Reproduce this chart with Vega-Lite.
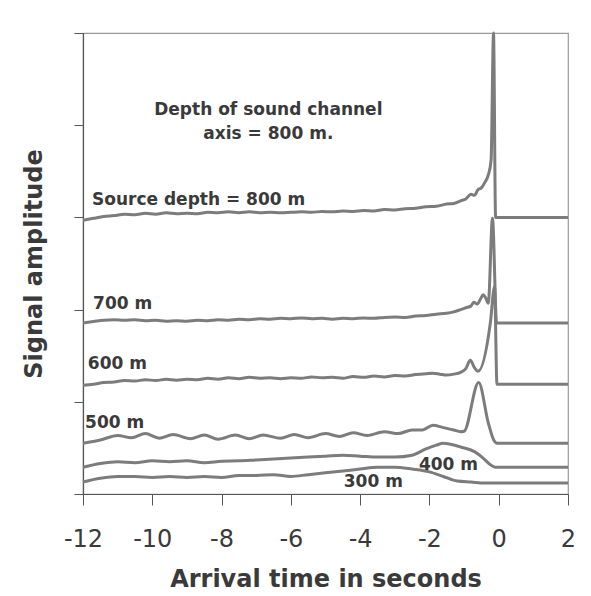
{
  "$schema": "https://vega.github.io/schema/vega-lite/v6.json",
  "autosize": {"type": "none"},
  "padding": {"left": 83, "top": 33, "right": 23, "bottom": 102},
  "width": 485,
  "height": 461,
  "background": "#ffffff",
  "config": {
    "view": {"stroke": "#9a9a9a", "strokeWidth": 1.2},
    "font": "DejaVu Sans"
  },
  "datasets": {
    "traces": [
      {"t": -12, "v": 2.97, "s": "800"}, {"t": -11.7, "v": 2.99, "s": "800"}, {"t": -11.4, "v": 3.01, "s": "800"}, {"t": -11.1, "v": 3.02, "s": "800"}, {"t": -10.8, "v": 3.035, "s": "800"}, {"t": -10.5, "v": 3.03, "s": "800"}, {"t": -10.2, "v": 3.045, "s": "800"}, {"t": -9.9, "v": 3.035, "s": "800"}, {"t": -9.6, "v": 3.05, "s": "800"}, {"t": -9.3, "v": 3.04, "s": "800"}, {"t": -9.0, "v": 3.045, "s": "800"}, {"t": -8.7, "v": 3.04, "s": "800"}, {"t": -8.4, "v": 3.055, "s": "800"}, {"t": -8.1, "v": 3.05, "s": "800"}, {"t": -7.8, "v": 3.06, "s": "800"}, {"t": -7.5, "v": 3.05, "s": "800"}, {"t": -7.2, "v": 3.06, "s": "800"}, {"t": -6.9, "v": 3.05, "s": "800"}, {"t": -6.6, "v": 3.055, "s": "800"}, {"t": -6.3, "v": 3.05, "s": "800"}, {"t": -6.0, "v": 3.055, "s": "800"}, {"t": -5.7, "v": 3.06, "s": "800"}, {"t": -5.4, "v": 3.055, "s": "800"}, {"t": -5.1, "v": 3.065, "s": "800"}, {"t": -4.8, "v": 3.06, "s": "800"}, {"t": -4.5, "v": 3.07, "s": "800"}, {"t": -4.2, "v": 3.065, "s": "800"}, {"t": -3.9, "v": 3.075, "s": "800"}, {"t": -3.6, "v": 3.07, "s": "800"}, {"t": -3.3, "v": 3.085, "s": "800"}, {"t": -3.0, "v": 3.08, "s": "800"}, {"t": -2.7, "v": 3.095, "s": "800"}, {"t": -2.4, "v": 3.1, "s": "800"}, {"t": -2.1, "v": 3.115, "s": "800"}, {"t": -1.8, "v": 3.12, "s": "800"}, {"t": -1.5, "v": 3.145, "s": "800"}, {"t": -1.3, "v": 3.15, "s": "800"}, {"t": -1.1, "v": 3.18, "s": "800"}, {"t": -0.95, "v": 3.2, "s": "800"}, {"t": -0.8, "v": 3.25, "s": "800"}, {"t": -0.7, "v": 3.24, "s": "800"}, {"t": -0.6, "v": 3.3, "s": "800"}, {"t": -0.5, "v": 3.32, "s": "800"}, {"t": -0.4, "v": 3.38, "s": "800"}, {"t": -0.3, "v": 3.46, "s": "800"}, {"t": -0.22, "v": 3.62, "s": "800"}, {"t": -0.15, "v": 5.0, "s": "800"}, {"t": -0.09, "v": 3.0, "s": "800"}, {"t": 2, "v": 3.0, "s": "800"},

      {"t": -12, "v": 1.855, "s": "700"}, {"t": -11.7, "v": 1.87, "s": "700"}, {"t": -11.4, "v": 1.885, "s": "700"}, {"t": -11.1, "v": 1.89, "s": "700"}, {"t": -10.8, "v": 1.885, "s": "700"}, {"t": -10.5, "v": 1.89, "s": "700"}, {"t": -10.2, "v": 1.88, "s": "700"}, {"t": -9.9, "v": 1.885, "s": "700"}, {"t": -9.6, "v": 1.875, "s": "700"}, {"t": -9.3, "v": 1.88, "s": "700"}, {"t": -9.0, "v": 1.875, "s": "700"}, {"t": -8.7, "v": 1.885, "s": "700"}, {"t": -8.4, "v": 1.88, "s": "700"}, {"t": -8.1, "v": 1.89, "s": "700"}, {"t": -7.8, "v": 1.885, "s": "700"}, {"t": -7.5, "v": 1.895, "s": "700"}, {"t": -7.2, "v": 1.89, "s": "700"}, {"t": -6.9, "v": 1.9, "s": "700"}, {"t": -6.6, "v": 1.895, "s": "700"}, {"t": -6.3, "v": 1.905, "s": "700"}, {"t": -6.0, "v": 1.9, "s": "700"}, {"t": -5.7, "v": 1.91, "s": "700"}, {"t": -5.4, "v": 1.9, "s": "700"}, {"t": -5.1, "v": 1.905, "s": "700"}, {"t": -4.8, "v": 1.895, "s": "700"}, {"t": -4.5, "v": 1.905, "s": "700"}, {"t": -4.2, "v": 1.9, "s": "700"}, {"t": -3.9, "v": 1.91, "s": "700"}, {"t": -3.6, "v": 1.905, "s": "700"}, {"t": -3.3, "v": 1.915, "s": "700"}, {"t": -3.0, "v": 1.92, "s": "700"}, {"t": -2.7, "v": 1.915, "s": "700"}, {"t": -2.4, "v": 1.93, "s": "700"}, {"t": -2.1, "v": 1.935, "s": "700"}, {"t": -1.8, "v": 1.95, "s": "700"}, {"t": -1.5, "v": 1.96, "s": "700"}, {"t": -1.3, "v": 1.975, "s": "700"}, {"t": -1.1, "v": 2.0, "s": "700"}, {"t": -0.95, "v": 2.02, "s": "700"}, {"t": -0.8, "v": 2.04, "s": "700"}, {"t": -0.72, "v": 2.08, "s": "700"}, {"t": -0.62, "v": 2.06, "s": "700"}, {"t": -0.52, "v": 2.12, "s": "700"}, {"t": -0.45, "v": 2.16, "s": "700"}, {"t": -0.38, "v": 2.13, "s": "700"}, {"t": -0.3, "v": 2.07, "s": "700"}, {"t": -0.18, "v": 2.99, "s": "700"}, {"t": -0.06, "v": 1.855, "s": "700"}, {"t": 2, "v": 1.855, "s": "700"},

      {"t": -12, "v": 1.18, "s": "600"}, {"t": -11.7, "v": 1.19, "s": "600"}, {"t": -11.4, "v": 1.21, "s": "600"}, {"t": -11.1, "v": 1.215, "s": "600"}, {"t": -10.8, "v": 1.23, "s": "600"}, {"t": -10.5, "v": 1.225, "s": "600"}, {"t": -10.2, "v": 1.24, "s": "600"}, {"t": -9.9, "v": 1.23, "s": "600"}, {"t": -9.6, "v": 1.245, "s": "600"}, {"t": -9.3, "v": 1.235, "s": "600"}, {"t": -9.0, "v": 1.245, "s": "600"}, {"t": -8.7, "v": 1.24, "s": "600"}, {"t": -8.4, "v": 1.255, "s": "600"}, {"t": -8.1, "v": 1.245, "s": "600"}, {"t": -7.8, "v": 1.26, "s": "600"}, {"t": -7.5, "v": 1.25, "s": "600"}, {"t": -7.2, "v": 1.265, "s": "600"}, {"t": -6.9, "v": 1.255, "s": "600"}, {"t": -6.6, "v": 1.26, "s": "600"}, {"t": -6.3, "v": 1.25, "s": "600"}, {"t": -6.0, "v": 1.26, "s": "600"}, {"t": -5.7, "v": 1.255, "s": "600"}, {"t": -5.4, "v": 1.27, "s": "600"}, {"t": -5.1, "v": 1.26, "s": "600"}, {"t": -4.8, "v": 1.265, "s": "600"}, {"t": -4.5, "v": 1.255, "s": "600"}, {"t": -4.2, "v": 1.275, "s": "600"}, {"t": -3.9, "v": 1.265, "s": "600"}, {"t": -3.6, "v": 1.28, "s": "600"}, {"t": -3.3, "v": 1.27, "s": "600"}, {"t": -3.0, "v": 1.285, "s": "600"}, {"t": -2.7, "v": 1.28, "s": "600"}, {"t": -2.4, "v": 1.295, "s": "600"}, {"t": -2.1, "v": 1.305, "s": "600"}, {"t": -1.9, "v": 1.31, "s": "600"}, {"t": -1.7, "v": 1.3, "s": "600"}, {"t": -1.5, "v": 1.29, "s": "600"}, {"t": -1.3, "v": 1.3, "s": "600"}, {"t": -1.1, "v": 1.32, "s": "600"}, {"t": -0.95, "v": 1.36, "s": "600"}, {"t": -0.82, "v": 1.45, "s": "600"}, {"t": -0.7, "v": 1.37, "s": "600"}, {"t": -0.6, "v": 1.33, "s": "600"}, {"t": -0.24, "v": 1.86, "s": "600"}, {"t": -0.12, "v": 2.25, "s": "600"}, {"t": -0.05, "v": 1.19, "s": "600"}, {"t": 2, "v": 1.19, "s": "600"},

      {"t": -12, "v": 0.55, "s": "500"}, {"t": -11.5, "v": 0.585, "s": "500"}, {"t": -11.0, "v": 0.635, "s": "500"}, {"t": -10.6, "v": 0.61, "s": "500"}, {"t": -10.2, "v": 0.655, "s": "500"}, {"t": -9.8, "v": 0.605, "s": "500"}, {"t": -9.4, "v": 0.645, "s": "500"}, {"t": -8.9, "v": 0.6, "s": "500"}, {"t": -8.5, "v": 0.64, "s": "500"}, {"t": -8.1, "v": 0.595, "s": "500"}, {"t": -7.6, "v": 0.64, "s": "500"}, {"t": -7.2, "v": 0.6, "s": "500"}, {"t": -6.8, "v": 0.64, "s": "500"}, {"t": -6.3, "v": 0.605, "s": "500"}, {"t": -5.9, "v": 0.645, "s": "500"}, {"t": -5.5, "v": 0.61, "s": "500"}, {"t": -5.0, "v": 0.655, "s": "500"}, {"t": -4.6, "v": 0.625, "s": "500"}, {"t": -4.2, "v": 0.665, "s": "500"}, {"t": -3.8, "v": 0.635, "s": "500"}, {"t": -3.3, "v": 0.675, "s": "500"}, {"t": -2.9, "v": 0.655, "s": "500"}, {"t": -2.5, "v": 0.695, "s": "500"}, {"t": -2.2, "v": 0.695, "s": "500"}, {"t": -1.9, "v": 0.745, "s": "500"}, {"t": -1.6, "v": 0.72, "s": "500"}, {"t": -1.3, "v": 0.695, "s": "500"}, {"t": -1.1, "v": 0.675, "s": "500"}, {"t": -1.0, "v": 0.68, "s": "500"}, {"t": -0.58, "v": 1.21, "s": "500"}, {"t": -0.3, "v": 0.77, "s": "500"}, {"t": -0.15, "v": 0.59, "s": "500"}, {"t": -0.05, "v": 0.55, "s": "500"}, {"t": 2, "v": 0.55, "s": "500"},

      {"t": -12, "v": 0.29, "s": "400"}, {"t": -11.5, "v": 0.33, "s": "400"}, {"t": -11, "v": 0.35, "s": "400"}, {"t": -10.5, "v": 0.34, "s": "400"}, {"t": -10, "v": 0.36, "s": "400"}, {"t": -9.5, "v": 0.35, "s": "400"}, {"t": -9, "v": 0.36, "s": "400"}, {"t": -8.5, "v": 0.34, "s": "400"}, {"t": -8, "v": 0.355, "s": "400"}, {"t": -7.5, "v": 0.36, "s": "400"}, {"t": -7, "v": 0.37, "s": "400"}, {"t": -6.5, "v": 0.38, "s": "400"}, {"t": -6, "v": 0.39, "s": "400"}, {"t": -5.5, "v": 0.4, "s": "400"}, {"t": -5, "v": 0.41, "s": "400"}, {"t": -4.5, "v": 0.42, "s": "400"}, {"t": -4, "v": 0.41, "s": "400"}, {"t": -3.5, "v": 0.4, "s": "400"}, {"t": -3, "v": 0.4, "s": "400"}, {"t": -2.5, "v": 0.42, "s": "400"}, {"t": -2.1, "v": 0.49, "s": "400"}, {"t": -1.8, "v": 0.53, "s": "400"}, {"t": -1.6, "v": 0.55, "s": "400"}, {"t": -1.4, "v": 0.54, "s": "400"}, {"t": -1.1, "v": 0.51, "s": "400"}, {"t": -0.7, "v": 0.46, "s": "400"}, {"t": -0.45, "v": 0.39, "s": "400"}, {"t": -0.25, "v": 0.32, "s": "400"}, {"t": -0.1, "v": 0.29, "s": "400"}, {"t": 2, "v": 0.29, "s": "400"},

      {"t": -12, "v": 0.13, "s": "300"}, {"t": -11.5, "v": 0.17, "s": "300"}, {"t": -11, "v": 0.19, "s": "300"}, {"t": -10.5, "v": 0.19, "s": "300"}, {"t": -10, "v": 0.18, "s": "300"}, {"t": -9.5, "v": 0.19, "s": "300"}, {"t": -9, "v": 0.18, "s": "300"}, {"t": -8.5, "v": 0.19, "s": "300"}, {"t": -8, "v": 0.18, "s": "300"}, {"t": -7.5, "v": 0.2, "s": "300"}, {"t": -7, "v": 0.2, "s": "300"}, {"t": -6.5, "v": 0.21, "s": "300"}, {"t": -6, "v": 0.19, "s": "300"}, {"t": -5.5, "v": 0.21, "s": "300"}, {"t": -5, "v": 0.23, "s": "300"}, {"t": -4.5, "v": 0.25, "s": "300"}, {"t": -4, "v": 0.27, "s": "300"}, {"t": -3.5, "v": 0.29, "s": "300"}, {"t": -3, "v": 0.29, "s": "300"}, {"t": -2.5, "v": 0.27, "s": "300"}, {"t": -2, "v": 0.24, "s": "300"}, {"t": -1.6, "v": 0.19, "s": "300"}, {"t": -1.2, "v": 0.14, "s": "300"}, {"t": -0.8, "v": 0.13, "s": "300"}, {"t": -0.4, "v": 0.12, "s": "300"}, {"t": 2, "v": 0.12, "s": "300"}
    ],
    "notesLeft": [
      {"t": -11.74, "v": 3.19, "label": "Source depth = 800 m"},
      {"t": -11.71, "v": 2.06, "label": "700 m"},
      {"t": -11.86, "v": 1.41, "label": "600 m"},
      {"t": -11.94, "v": 0.77, "label": "500 m"}
    ],
    "notesCenter": [
      {"t": -6.65, "v": 4.17, "label": "Depth of sound channel"},
      {"t": -6.65, "v": 3.9, "label": "axis = 800 m."},
      {"t": -1.45, "v": 0.315, "label": "400 m"},
      {"t": -3.62, "v": 0.13, "label": "300 m"}
    ]
  },
  "layer": [
    {
      "data": {"name": "traces"},
      "mark": {"type": "line", "color": "#7c7c7c", "strokeWidth": 3, "strokeJoin": "round", "interpolate": "monotone"},
      "encoding": {
        "x": {
          "field": "t", "type": "quantitative",
          "scale": {"domain": [-12, 2], "nice": false, "zero": false},
          "axis": {
            "values": [-12, -10, -8, -6, -4, -2, 0, 2],
            "labelExpr": "datum.value + ''",
            "grid": false,
            "title": "Arrival time in seconds",
            "titleFont": "DejaVu Sans", "titleFontSize": 24, "titleFontWeight": "bold", "titleColor": "#3a3a3a",
            "titlePadding": 16,
            "labelFont": "DejaVu Sans", "labelFontSize": 24, "labelColor": "#3a3a3a", "labelPadding": 22,
            "labelFlush": false,
            "tickSize": 11, "tickColor": "#555555", "domainColor": "#555555", "domainWidth": 1.2
          }
        },
        "y": {
          "field": "v", "type": "quantitative",
          "scale": {"domain": [0, 5], "nice": false},
          "axis": {
            "values": [0, 1, 2, 3, 4, 5],
            "labels": false,
            "grid": false,
            "title": "Signal amplitude",
            "titleFont": "DejaVu Sans", "titleFontSize": 24, "titleFontWeight": "bold", "titleColor": "#3a3a3a",
            "titlePadding": 27,
            "tickSize": 9, "tickColor": "#555555", "domainColor": "#555555", "domainWidth": 1.2
          }
        },
        "detail": {"field": "s", "type": "nominal"},
        "order": {"field": "t", "type": "quantitative"}
      }
    },
    {
      "data": {"name": "notesLeft"},
      "mark": {"type": "text", "align": "left", "baseline": "middle", "font": "DejaVu Sans", "fontSize": 17, "fontWeight": "bold", "color": "#3a3a3a"},
      "encoding": {
        "x": {"field": "t", "type": "quantitative"},
        "y": {"field": "v", "type": "quantitative"},
        "text": {"field": "label", "type": "nominal"}
      }
    },
    {
      "data": {"name": "notesCenter"},
      "mark": {"type": "text", "align": "center", "baseline": "middle", "font": "DejaVu Sans", "fontSize": 17, "fontWeight": "bold", "color": "#3a3a3a"},
      "encoding": {
        "x": {"field": "t", "type": "quantitative"},
        "y": {"field": "v", "type": "quantitative"},
        "text": {"field": "label", "type": "nominal"}
      }
    }
  ]
}
